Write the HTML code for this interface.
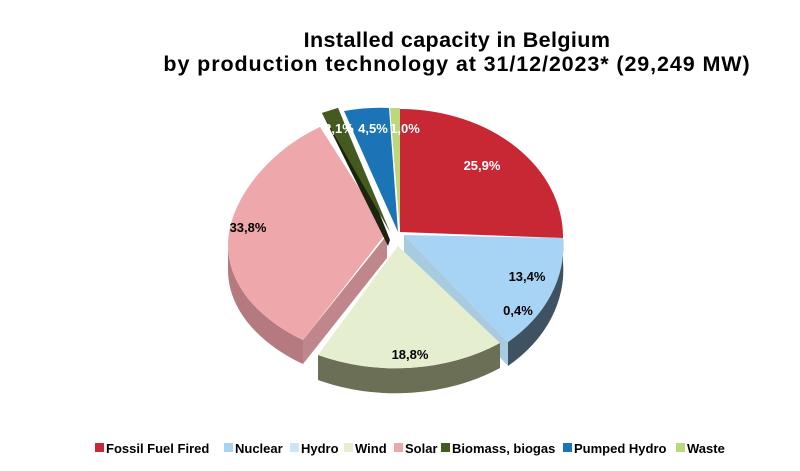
<!DOCTYPE html><html><head><style>body{margin:0;background:#fff;width:800px;height:466px;overflow:hidden}</style></head><body>
<svg width="800" height="466" xmlns="http://www.w3.org/2000/svg" font-family="Liberation Sans, sans-serif">
<text x="457" y="47" text-anchor="middle" font-size="21.5" font-weight="bold" letter-spacing="0.4">Installed capacity in Belgium</text>
<text x="457" y="71" text-anchor="middle" font-size="21.5" font-weight="bold" letter-spacing="0.9">by production technology at 31/12/2023* (29,249 MW)</text>
<!-- solar -->
<path d="M228,245 C228,285 260,320 303,340 L303,364 C260,344 228,310 228,270 Z" fill="#b57a80"/>
<path d="M303,340 L387,235 L387,258 L303,364 Z" fill="#bf878b"/>
<path d="M387,232 L320,127 C270,150 228,200 228,245 C228,285 260,320 303,340 Z" fill="#eea8ac"/>
<!-- biomass -->
<path d="M322,113 L338,108 L390,240 L388,246 Z" fill="#1c2410"/>
<path d="M322,113 L338,108 L390,232 Z" fill="#445a1f"/>
<!-- pumped hydro -->
<path d="M344,111 Q368,107 389,108 L398,232 Z" fill="#1a74b6"/>
<!-- waste -->
<path d="M390,108 L400,108 L400,232 Z" fill="#bcd87c"/>
<!-- red -->
<path d="M400,232 L400,109 A163,128 0 0,1 563,238 Z" fill="#c82834"/>
<!-- nuclear -->
<path d="M563,238 A163,128 0 0,1 508,342 L508,366 A163,128 0 0,0 563,262 Z" fill="#3e5262"/>
<path d="M404,235 L508,342 L508,366 L404,252 Z" fill="#a9cbe0"/>
<path d="M404,235 L563,238 A163,128 0 0,1 508,342 Z" fill="#a7d4f5"/>
<!-- wind -->
<path d="M318,355 A175,128 0 0,0 500,343 L500,368 A175,128 0 0,1 318,380 Z" fill="#6b6f56"/>
<path d="M398,246 L500,343 A175,128 0 0,1 318,355 Z" fill="#e5efcf"/>
<g font-size="13" font-weight="bold">
<text x="482" y="170" fill="#fff" text-anchor="middle">25,9%</text>
<text x="527" y="281" text-anchor="middle">13,4%</text>
<text x="518" y="315" text-anchor="middle">0,4%</text>
<text x="410" y="359" text-anchor="middle">18,8%</text>
<text x="248" y="232" text-anchor="middle">33,8%</text>
<text x="339" y="133" fill="#fff" text-anchor="middle">2,1%</text>
<text x="373" y="133" fill="#fff" text-anchor="middle">4,5%</text>
<text x="405" y="133" fill="#fff" text-anchor="middle">1,0%</text>
</g>
<g font-size="13" font-weight="bold">
<rect x="95" y="443" width="9" height="9" fill="#c82834"/><text x="106" y="453">Fossil Fuel Fired</text>
<rect x="224" y="443" width="9" height="9" fill="#a7d4f5"/><text x="235" y="453">Nuclear</text>
<rect x="290" y="443" width="9" height="9" fill="#cde5f7"/><text x="301" y="453">Hydro</text>
<rect x="344" y="443" width="9" height="9" fill="#e5efcf"/><text x="355" y="453">Wind</text>
<rect x="394" y="443" width="9" height="9" fill="#eea8ac"/><text x="405" y="453">Solar</text>
<rect x="441" y="443" width="9" height="9" fill="#445a1f"/><text x="452" y="453">Biomass, biogas</text>
<rect x="563" y="443" width="9" height="9" fill="#1a74b6"/><text x="574" y="453">Pumped Hydro</text>
<rect x="676" y="443" width="9" height="9" fill="#bcd87c"/><text x="687" y="453">Waste</text>
</g>
</svg></body></html>
